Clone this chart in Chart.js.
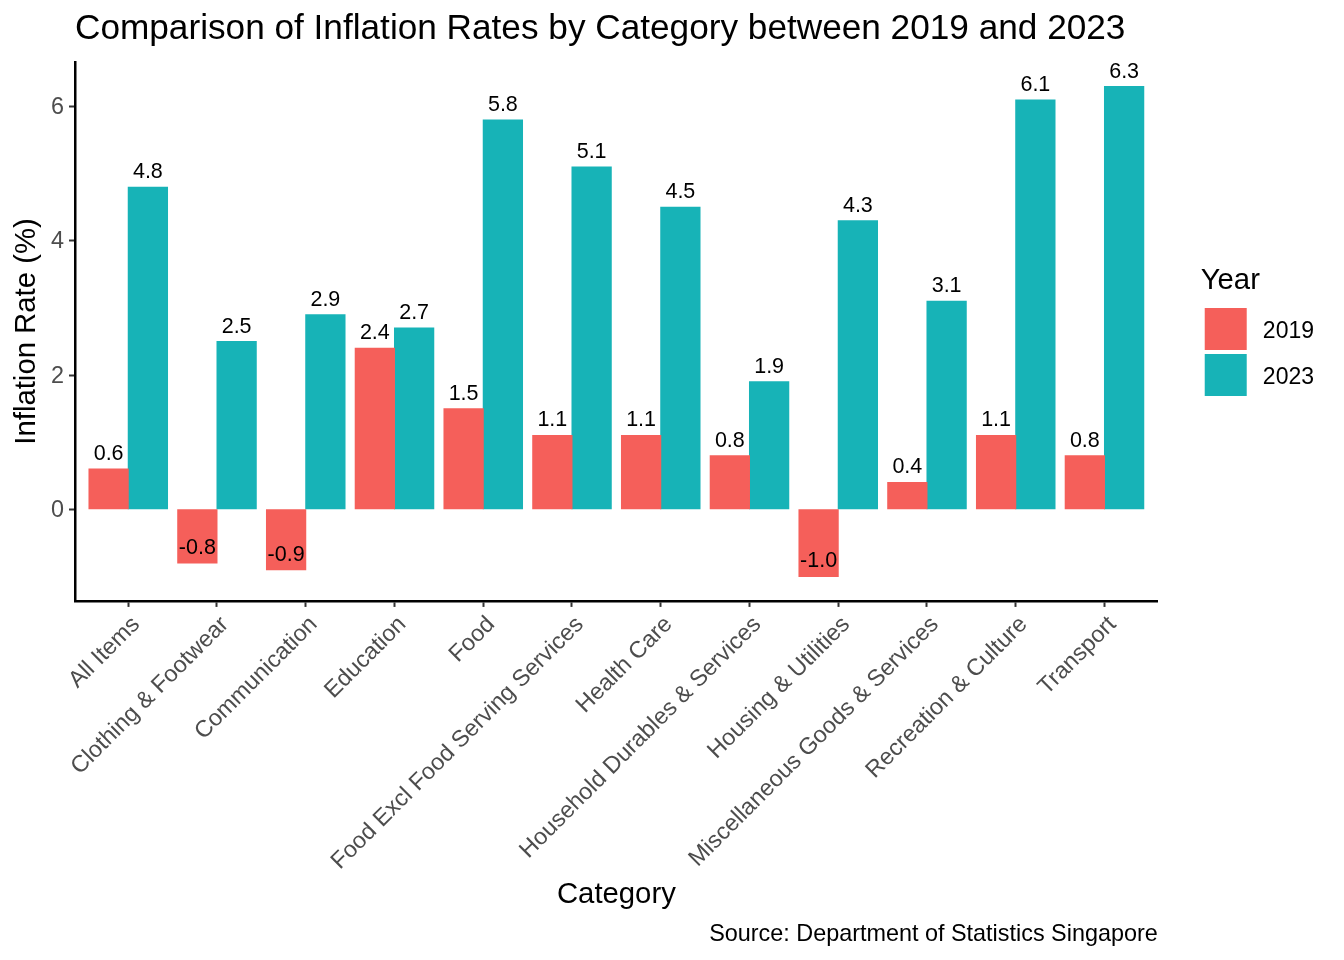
<!DOCTYPE html>
<html lang="en">
<head>
<meta charset="UTF-8">
<title>Inflation Rates</title>
<script src="https://cdnjs.cloudflare.com/ajax/libs/Chart.js/4.4.1/chart.umd.min.js"></script>
<style>
    html, body { margin: 0; padding: 0; background: #fff; }
    canvas { display: block; }
</style>
</head>
<body>
<canvas id="chart" width="1344" height="960" style="width:1344px;height:960px"></canvas>
<script>
const categories = ['All Items', 'Clothing & Footwear', 'Communication', 'Education', 'Food',
    'Food Excl Food Serving Services', 'Health Care', 'Household Durables & Services',
    'Housing & Utilities', 'Miscellaneous Goods & Services', 'Recreation & Culture', 'Transport'];
const values2019 = [0.6, -0.8, -0.9, 2.4, 1.5, 1.1, 1.1, 0.8, -1.0, 0.4, 1.1, 0.8];
const values2023 = [4.8, 2.5, 2.9, 2.7, 5.8, 5.1, 4.5, 1.9, 4.3, 3.1, 6.1, 6.3];
const yTicks = [0, 2, 4, 6];

const FONT = '"Liberation Sans", Arial, sans-serif';

// value labels above each bar
const barLabels = {
    id: 'barLabels',
    afterDatasetsDraw(chart) {
        const ctx = chart.ctx;
        ctx.save();
        ctx.font = '21.5px ' + FONT;
        ctx.fillStyle = '#000';
        ctx.textAlign = 'center';
        ctx.textBaseline = 'alphabetic';
        chart.data.datasets.forEach((ds, i) => {
            chart.getDatasetMeta(i).data.forEach((bar, j) => {
                ctx.fillText(ds.data[j].y.toFixed(1), bar.x, bar.y - 9);
            });
        });
        ctx.restore();
    }
};

// legend text sits a little lower than the library puts it
const legendText = {
    id: 'legendText',
    afterDraw(chart) {
        const ctx = chart.ctx;
        ctx.save();
        ctx.font = '23px ' + FONT;
        ctx.fillStyle = '#000';
        ctx.textAlign = 'left';
        ctx.textBaseline = 'middle';
        chart.legend.legendItems.forEach((item, i) => {
            const hit = chart.legend.legendHitBoxes[i];
            ctx.fillText(item.text, hit.left + 53.5, hit.top + hit.height / 2 + 3);
        });
        ctx.restore();
    }
};

new Chart(document.getElementById('chart'), {
    type: 'bar',
    data: {
        datasets: [
            { label: '2019', data: values2019.map((v, i) => ({ x: i, y: v })), backgroundColor: '#F55F5A' },
            { label: '2023', data: values2023.map((v, i) => ({ x: i, y: v })), backgroundColor: '#17B3B7' }
        ]
    },
    options: {
        responsive: false,
        animation: false,
        devicePixelRatio: 1,
        layout: { padding: { left: 0, right: 20, top: 0, bottom: 0 } },
        datasets: { bar: { categoryPercentage: 0.885, barPercentage: 1, borderWidth: 0, inflateAmount: 0.5 } },
        plugins: {
            tooltip: { enabled: false },
            title: {
                display: true,
                text: 'Comparison of Inflation Rates by Category between 2019 and 2023',
                align: 'start',
                fullSize: false,
                color: '#000',
                font: { family: FONT, size: 35.2, weight: 'normal' },
                padding: { top: 8.5, bottom: 11.3 }
            },
            subtitle: {
                display: true,
                position: 'bottom',
                text: 'Source: Department of Statistics Singapore',
                align: 'end',
                fullSize: false,
                color: '#000',
                font: { family: FONT, size: 23.4, weight: 'normal' },
                padding: { top: 0, bottom: 11 }
            },
            legend: {
                position: 'right',
                fullSize: false,
                align: 'center',
                title: {
                    display: true,
                    text: 'Year',
                    position: 'start',
                    color: '#000',
                    font: { family: FONT, size: 29.3 },
                    padding: { top: 3, bottom: 3 }
                },
                labels: {
                    boxWidth: 42,
                    boxHeight: 42,
                    padding: 4,
                    font: { family: FONT, size: 23 },
                    generateLabels(chart) {
                        return chart.data.datasets.map((d, i) => ({
                            text: '\u2009' + d.label,
                            fontColor: 'transparent',
                            fillStyle: d.backgroundColor,
                            strokeStyle: d.backgroundColor,
                            lineWidth: 0,
                            datasetIndex: i
                        }));
                    }
                }
            }
        },
        scales: {
            x: {
                type: 'linear',
                offset: false,
                min: -0.6,
                max: 11.6,
                afterBuildTicks(axis) { axis.ticks = categories.map((c, i) => ({ value: i })); },
                afterFit(axis) { axis.height = 320; },
                title: {
                    display: true,
                    text: 'Category',
                    color: '#000',
                    font: { family: FONT, size: 29.3 },
                    padding: { top: 0, bottom: 8.4 }
                },
                border: { display: true, color: '#000', width: 2.5 },
                grid: { display: true, offset: false, drawOnChartArea: false, drawTicks: true, tickLength: 6, tickColor: '#333', tickWidth: 2 },
                ticks: {
                    callback: v => categories[v],
                    autoSkip: false,
                    minRotation: 45,
                    maxRotation: 45,
                    labelOffset: 8,
                    padding: 4,
                    color: '#4D4D4D',
                    font: { family: FONT, size: 23.4 }
                }
            },
            y: {
                min: -1.365,
                max: 6.665,
                afterBuildTicks(axis) { axis.ticks = yTicks.map(v => ({ value: v })); },
                afterFit(axis) { axis.width = 75; },
                title: {
                    display: true,
                    text: 'Inflation Rate (%)',
                    color: '#000',
                    font: { family: FONT, size: 29.3 },
                    padding: { top: 9.5, bottom: 0 }
                },
                border: { display: true, color: '#000', width: 2.5 },
                grid: { display: true, drawOnChartArea: false, drawTicks: true, tickLength: 6, tickColor: '#333', tickWidth: 2 },
                ticks: {
                    padding: 5,
                    labelOffset: 1,
                    color: '#4D4D4D',
                    font: { family: FONT, size: 23.4 }
                }
            },
            // empty axis, keeps the gap between the panel and the legend
            gap: {
                type: 'linear',
                position: 'right',
                afterFit(axis) { axis.width = 43; },
                border: { display: false },
                grid: { display: false },
                ticks: { display: false }
            }
        }
    },
    plugins: [barLabels, legendText]
});
</script>
</body>
</html>
